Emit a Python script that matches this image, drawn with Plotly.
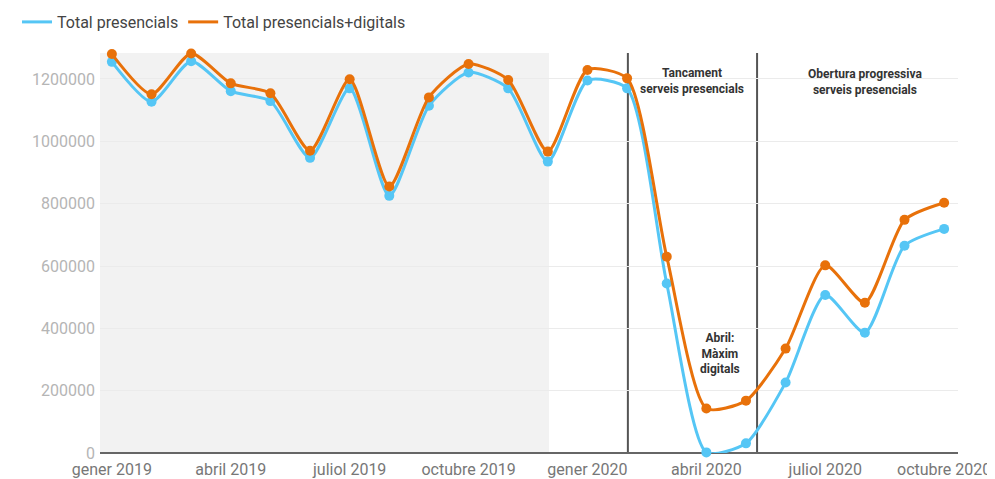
import plotly.graph_objects as go

months = ["gener 2019", "febrer 2019", "març 2019", "abril 2019", "maig 2019", "juny 2019",
          "juliol 2019", "agost 2019", "setembre 2019", "octubre 2019", "novembre 2019", "desembre 2019",
          "gener 2020", "febrer 2020", "març 2020", "abril 2020", "maig 2020", "juny 2020",
          "juliol 2020", "agost 2020", "setembre 2020", "octubre 2020"]

total_presencials = [1255000, 1127000, 1257000, 1161000, 1129000, 947000,
                     1170000, 825000, 1114000, 1221000, 1170000, 935000,
                     1195000, 1170000, 544000, 2000, 31000, 226000,
                     507000, 386000, 665000, 719000]

total_presencials_digitals = [1280000, 1151000, 1282000, 1186000, 1154000, 970000,
                              1199000, 855000, 1141000, 1248000, 1197000, 967000,
                              1229000, 1202000, 630000, 143000, 168000, 335000,
                              602000, 482000, 748000, 803000]

tick_idx = [0, 3, 6, 9, 12, 15, 18, 21]
tick_text = ["gener 2019", "abril 2019", "juliol 2019", "octubre 2019",
             "gener 2020", "abril 2020", "juliol 2020", "octubre 2020"]
y_ticks = [0, 200000, 400000, 600000, 800000, 1000000, 1200000]

x = list(range(len(months)))

BLUE = "#55c6f5"
ORANGE = "#e8710a"
series = [("Total presencials", total_presencials, BLUE),
          ("Total presencials+digitals", total_presencials_digitals, ORANGE)]

# the page body adds an 8px offset; the figure is sized to fill the rest of the window
W, H = 987, 471

fig = go.Figure()
for name, vals, col in series:
    fig.add_trace(go.Scatter(
        x=x, y=vals, name=name, mode="lines+markers", showlegend=False,
        line=dict(color=col, width=3, shape="spline", smoothing=0.65),
        marker=dict(color=col, size=10), cliponaxis=False, text=months))
for name, vals, col in series:
    # legend entries (line only, as in the reference)
    fig.add_trace(go.Scatter(x=[None], y=[None], name=name, mode="lines",
                             line=dict(color=col, width=3), showlegend=True))

# shaded 2019 region
fig.add_shape(type="rect", xref="x", yref="paper", x0=-0.3, x1=11.03, y0=0, y1=1,
              fillcolor="#f2f2f2", line=dict(width=0), layer="below")
# vertical separators
for xv in [13.02, 16.28]:
    fig.add_shape(type="line", xref="x", yref="paper", x0=xv, x1=xv, y0=0, y1=1,
                  line=dict(color="#555555", width=2), layer="below")

ann_font = dict(family="Roboto", size=12, color="#333333")
fig.add_annotation(x=14.65, y=1194000, xref="x", yref="y", showarrow=False,
                   text="<b>Tancament<br>serveis presencials</b>", font=ann_font, align="center")
fig.add_annotation(x=19.0, y=1189000, xref="x", yref="y", showarrow=False,
                   text="<b>Obertura progressiva<br>serveis presencials</b>", font=ann_font, align="center")
fig.add_annotation(x=15.35, y=318000, xref="x", yref="y", showarrow=False,
                   text="<b>Abril:<br>Màxim<br>digitals</b>", font=ann_font, align="center")

fig.update_layout(
    width=W, height=H,
    margin=dict(l=92, r=37, t=45, b=26, autoexpand=False),
    paper_bgcolor="white", plot_bgcolor="white",
    font=dict(family="Roboto", size=16, color="#555555"),
    showlegend=True,
    legend=dict(orientation="h", xref="container", yref="container",
                x=9 / W, y=1 - 14 / H, xanchor="left", yanchor="middle",
                font=dict(size=16, color="#444444"), bgcolor="rgba(0,0,0,0)"),
    xaxis=dict(range=[-0.3, 21.35], tickvals=tick_idx, ticktext=tick_text,
               showgrid=False, zeroline=False, showline=False, automargin=False,
               tickfont=dict(size=16, color="#777777"), ticklabelstandoff=5,
               ticklabeloverflow="allow"),
    yaxis=dict(range=[0, 1283400], tickvals=y_ticks, tickformat="d",
               showgrid=True, gridcolor="#ebebeb", gridwidth=1,
               zeroline=True, zerolinecolor="#666666", zerolinewidth=2,
               showline=False, automargin=False,
               tickfont=dict(size=16, color="#b5b5b5"),
               ticklabelstandoff=4),
)

fig.write_html("out.html")
